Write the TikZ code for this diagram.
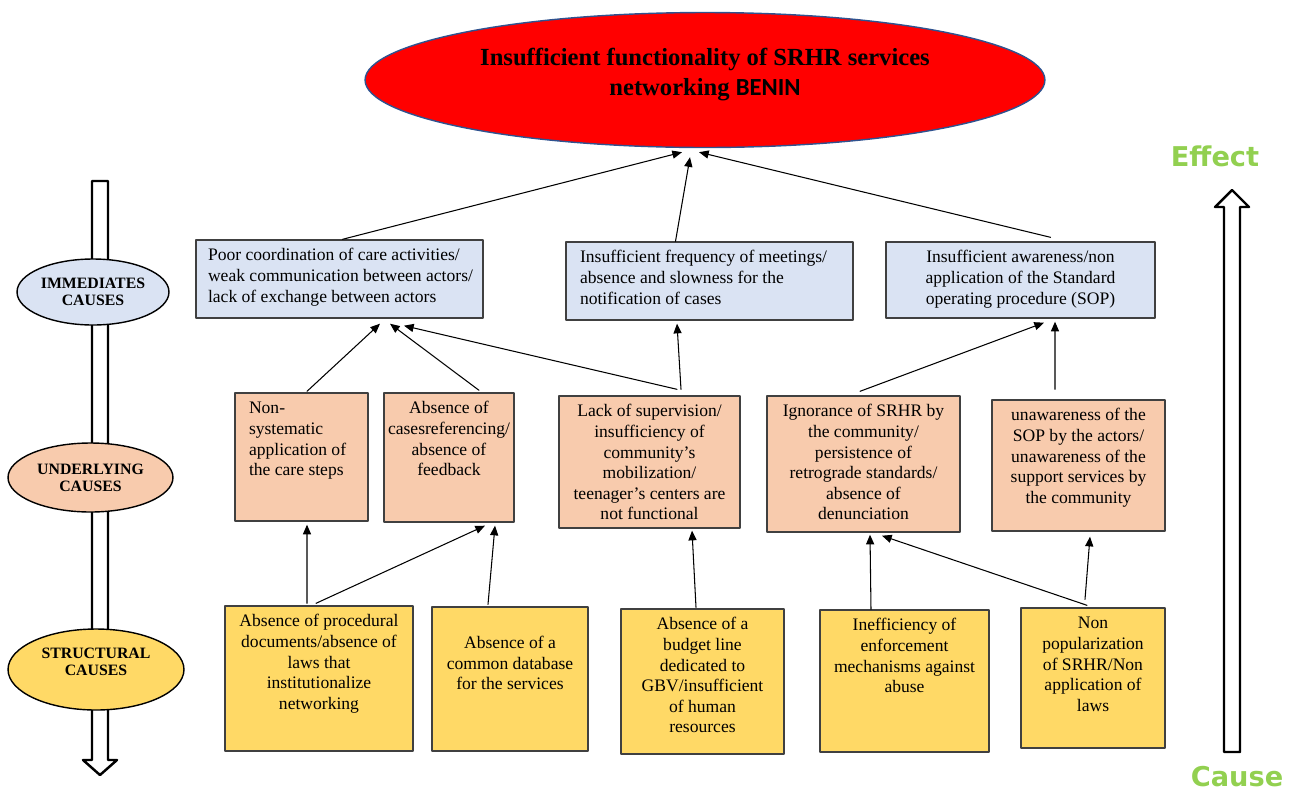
\documentclass[tikz,border=0pt]{standalone}
\usepackage{fontspec}
\setmainfont{Liberation Serif}
\newfontfamily\benfont{Carlito}
\newfontfamily\arrfont{DejaVu Sans}
\usepackage{tikz}
\usetikzlibrary{arrows.meta,shapes.geometric,calc}
\definecolor{immfill}{HTML}{DAE3F3}
\definecolor{undfill}{HTML}{F8CBAD}
\definecolor{strfill}{HTML}{FFD966}
\definecolor{boxline}{HTML}{404040}
\definecolor{rimblue}{HTML}{2F528F}
\definecolor{arrgreen}{HTML}{92D050}
\newcommand{\cell}[3]{\parbox[c][#2][t]{#1}{\vspace*{3.7pt}\strut#3}}

\begin{document}
\begin{tikzpicture}[x=0.02cm,y=-0.02cm,line cap=round,line join=round,>={Triangle[length=5.5pt,width=4.6pt]},
    cbox/.style={draw=boxline,line width=0.8pt,inner sep=0pt,font=\fontsize{10}{11.7}\selectfont},
    immbox/.style={cbox,fill=immfill},
    undbox/.style={cbox,fill=undfill},
    strbox/.style={cbox,fill=strfill},
    level/.style={ellipse,draw=black,line width=0.8pt,inner sep=0pt,align=center,font=\fontsize{9}{9.7}\selectfont\bfseries},
    link/.style={->,line width=0.6pt}]
    \useasboundingbox (0,0) rectangle (1295,792);
    % left column
    \draw[line width=1.4pt,fill=white] (92,181) -- (108,181) -- (108,760) -- (117,760) -- (100,775) -- (83,760) -- (92,760) -- cycle;
    \node[level,fill=immfill,minimum width=3.04cm,minimum height=1.32cm] (lvlimm) at (93,292) {IMMEDIATES\\CAUSES};
    \node[level,fill=undfill,minimum width=3.3cm,minimum height=1.38cm] (lvlund) at (90.5,477.5) {UNDERLYING\\CAUSES};
    \node[level,fill=strfill,minimum width=3.52cm,minimum height=1.62cm,text depth=8.4pt] (lvlstr) at (96,669.5) {STRUCTURAL\\CAUSES};
    % right column
    \draw[line width=1.4pt,fill=white] (1224,752) -- (1240,752) -- (1240,207) -- (1249,207) -- (1232,190) -- (1215,207) -- (1224,207) -- cycle;
    \node[font=\arrfont\bfseries\fontsize{15.5}{18}\selectfont,text=arrgreen] (effect) at (1215,156) {Effect};
    \node[font=\arrfont\bfseries\fontsize{15.5}{18}\selectfont,text=arrgreen] (cause) at (1237,777) {Cause};
    % problem
    \node[ellipse,draw=rimblue,line width=0.8pt,fill=red,minimum width=13.6cm,minimum height=2.7cm,inner sep=0pt,align=center,text depth=9pt,font=\fontsize{14}{17}\selectfont\bfseries] (prob) at (705,80) {Insufficient functionality of SRHR services\\networking {\benfont BENIN}};
    % immediate causes
    \node[immbox] (imm1) at (339.5,279) {\cell{5.74cm}{1.56cm}{\raggedright\leftskip=0.24cm Poor coordination of care activities/\\weak communication between actors/\\lack of exchange between actors}};
    \node[immbox] (imm2) at (709.5,281) {\cell{5.74cm}{1.56cm}{\raggedright\leftskip=0.28cm Insufficient frequency of meetings/\\absence and slowness for the\\notification of cases}};
    \node[immbox] (imm3) at (1020.5,280) {\cell{5.38cm}{1.52cm}{\centering Insufficient awareness/non\\application of the Standard\\operating procedure (SOP)}};
    % underlying causes
    \node[undbox] (und1) at (301.5,457) {\cell{2.66cm}{2.56cm}{\raggedright\leftskip=0.28cm Non-\\systematic\\application of\\the care steps}};
    \node[undbox] (und2) at (449,457.5) {\cell{2.6cm}{2.58cm}{\centering Absence of\\casesreferencing/\\absence of\\feedback}};
    \node[undbox] (und3) at (649.5,462) {\cell{3.62cm}{2.64cm}{\centering Lack of supervision/\\insufficiency of\\community’s\\mobilization/\\teenager’s centers are\\not functional}};
    \node[undbox] (und4) at (863.5,464) {\cell{3.86cm}{2.72cm}{\centering Ignorance of SRHR by\\the community/\\persistence of\\retrograde standards/\\absence of\\denunciation}};
    \node[undbox] (und5) at (1078.5,465.5) {\cell{3.46cm}{2.62cm}{\centering unawareness of the\\SOP by the actors/\\unawareness of the\\support services by\\the community}};
    % structural causes
    \node[strbox] (str1) at (319,678.5) {\cell{3.76cm}{2.9cm}{\centering Absence of procedural\\documents/absence of\\laws that\\institutionalize\\networking}};
    \node[strbox] (str2) at (510,679) {\cell{3.12cm}{2.88cm}{\centering\mbox{}\\Absence of a\\common database\\for the services}};
    \node[strbox] (str3) at (702.5,681.5) {\cell{3.26cm}{2.9cm}{\centering Absence of a\\budget line\\dedicated to\\GBV/insufficient\\of human\\resources}};
    \node[strbox] (str4) at (904.5,681) {\cell{3.38cm}{2.84cm}{\centering Inefficiency of\\enforcement\\mechanisms against\\abuse}};
    \node[strbox] (str5) at (1093,678) {\cell{2.88cm}{2.8cm}{\centering Non\\popularization\\of SRHR/Non\\application of\\laws}};
    % links
    \draw[link] ($(imm1.north)+(3,0)$) -- ($(prob.south)+(-23,4)$);
    \draw[link] ($(imm2.north)+(-34,0)$) -- ($(prob.south)+(-15,9)$);
    \draw[link] ($(imm3.north)+(30,-4)$) -- ($(prob.south)+(-6,4)$);
    \draw[link] ($(und1.north)+(5.5,-1)$) -- ($(imm1.south)+(40.5,5)$);
    \draw[link] ($(und2.north)+(30,-2)$) -- ($(imm1.south)+(50.5,5)$);
    \draw[link] ($(und3.north)+(27.5,-6)$) -- ($(imm1.south)+(64.5,7)$);
    \draw[link] ($(und3.north)+(31.5,-6)$) -- ($(imm2.south)+(-32.5,3)$);
    \draw[link] ($(und4.north)+(-3.5,-4)$) -- ($(imm3.south)+(23.5,4)$);
    \draw[link] ($(und5.north)+(-23.5,-10)$) -- ($(imm3.south)+(34.5,3)$);
    \draw[link] ($(str1.north)+(-12,-2)$) -- ($(und1.south)+(5.5,3)$);
    \draw[link] ($(str1.north)+(-3,-2)$) -- ($(und2.south)+(36,3)$);
    \draw[link] ($(str2.north)+(-22,-2)$) -- ($(und2.south)+(46,3)$);
    \draw[link] ($(str3.north)+(-6.5,-1)$) -- ($(und3.south)+(42.5,2)$);
    \draw[link] ($(str4.north)+(-33.5,0)$) -- ($(und4.south)+(6.5,2)$);
    \draw[link] ($(str5.north)+(-6,-2)$) -- ($(und4.south)+(18.5,3)$);
    \draw[link] ($(str5.north)+(-8,-8)$) -- ($(und5.south)+(11.5,5)$);
\end{tikzpicture}
\end{document}
